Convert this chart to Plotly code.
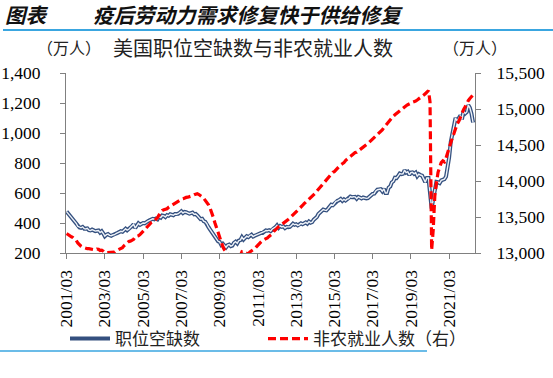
import plotly.graph_objects as go
import pandas as pd

# ---------------- data (万人), monthly from 2001/03 to 2022/06 ----------------
vacancies = [
    476, 462, 455, 440, 428, 410, 398, 378, 370, 368,
    374, 362, 360, 364, 352, 350, 356, 349, 346, 348, 350, 336,
    345, 330, 312, 322, 326, 318, 315, 320, 322, 330, 334, 340,
    345, 342, 350, 362, 352, 358, 370, 378, 392, 366, 380, 398,
    388, 396, 400, 398, 408, 412, 418, 424, 428, 425, 430, 424,
    442, 436, 450, 448, 440, 452, 448, 458, 454, 452, 460, 458,
    462, 470, 478, 466, 474, 472, 468, 462, 466, 470, 458, 460,
    450, 438, 426, 428, 412, 408, 395, 372, 356, 340, 322, 310,
    296, 278, 274, 254, 262, 250, 238, 252, 256, 246, 250, 268,
    276, 264, 282, 286, 306, 290, 298, 312, 306, 318, 322, 310,
    316, 320, 324, 328, 334, 334, 342, 350, 348, 352, 346, 360,
    364, 372, 384, 368, 380, 374, 378, 366, 374, 372, 374, 384,
    396, 388, 392, 384, 388, 398, 392, 398, 404, 396, 410, 402,
    406, 422, 430, 440, 460, 470, 476, 490, 486, 484, 496, 510,
    522, 518, 530, 545, 548, 552, 560, 548, 558, 550, 560, 562,
    576, 572, 576, 574, 562, 574, 570, 564, 570, 566, 564, 566,
    578, 588, 594, 596, 614, 622, 624, 626, 612, 628, 600, 600,
    636, 644, 670, 678, 702, 700, 714, 730, 726, 728, 752, 736,
    742, 720, 736, 738, 728, 736, 712, 726, 720, 716, 694, 672,
    700, 700, 600, 496, 560, 634, 674, 672, 666, 684, 686, 692,
    710, 774, 836, 940, 990, 1050, 1100, 1080, 1100, 1116, 1090, 1146,
    1130, 1140, 1186, 1168, 1130, 1070,
]

payrolls = [
    13270, 13250, 13240, 13225, 13215, 13195, 13175, 13140, 13110, 13095,
    13080, 13070, 13065, 13060, 13060, 13058, 13050, 13048, 13043, 13055, 13053, 13035,
    13040, 13025, 13005, 13003, 13004, 13005, 13006, 13002, 13012, 13030, 13040, 13058,
    13070, 13075, 13100, 13125, 13150, 13160, 13165, 13175, 13190, 13225, 13228, 13240,
    13255, 13280, 13290, 13325, 13345, 13370, 13400, 13420, 13430, 13440, 13470, 13490,
    13530, 13560, 13590, 13600, 13605, 13615, 13635, 13650, 13662, 13668, 13685, 13700,
    13720, 13728, 13745, 13752, 13765, 13772, 13775, 13778, 13785, 13795, 13808, 13818,
    13822, 13812, 13800, 13780, 13760, 13735, 13705, 13670, 13620, 13565, 13495, 13420,
    13350, 13275, 13200, 13125, 13090, 13045, 13010, 12990, 12965, 12950, 12950, 12930,
    12930, 12925, 12940, 12965, 13015, 13000, 12995, 12995, 12990, 13015, 13030, 13040,
    13060, 13085, 13110, 13140, 13155, 13175, 13185, 13195, 13210, 13230, 13245, 13265,
    13300, 13325, 13350, 13365, 13380, 13395, 13410, 13430, 13450, 13465, 13485, 13505,
    13530, 13555, 13575, 13595, 13620, 13640, 13660, 13685, 13705, 13725, 13750, 13765,
    13785, 13805, 13830, 13860, 13885, 13915, 13940, 13962, 13990, 14015, 14045, 14075,
    14095, 14120, 14130, 14155, 14185, 14200, 14225, 14240, 14255, 14285, 14305, 14330,
    14340, 14360, 14380, 14395, 14400, 14420, 14440, 14455, 14475, 14490, 14505, 14520,
    14540, 14560, 14580, 14600, 14620, 14640, 14660, 14685, 14710, 14740, 14770, 14800,
    14830, 14860, 14880, 14900, 14920, 14940, 14960, 14980, 14995, 15010, 15030, 15045,
    15060, 15065, 15080, 15095, 15100, 15110, 15125, 15140, 15155, 15170, 15195, 15210,
    15235, 15255, 15100, 13040, 13320, 13795, 13970, 14120, 14190, 14255, 14280, 14265,
    14320, 14400, 14480, 14550, 14600, 14660, 14740, 14790, 14830, 14890, 14940, 14990,
    15030, 15080, 15115, 15145, 15170, 15195,
]

tick_dates = ["2001-03-01", "2003-03-01", "2005-03-01", "2007-03-01", "2009-03-01",
              "2011-03-01", "2013-03-01", "2015-03-01", "2017-03-01", "2019-03-01",
              "2021-03-01"]
tick_labels = ["2001/03", "2003/03", "2005/03", "2007/03", "2009/03", "2011/03",
               "2013/03", "2015/03", "2017/03", "2019/03", "2021/03"]

series_names = ["职位空缺数", "非农就业人数（右）"]
fig_label = "图表"
fig_title = "疫后劳动力需求修复快于供给修复"
chart_title = "美国职位空缺数与非农就业人数"
unit_label = "（万人）"

months = pd.date_range(start="2001-03-01", periods=len(vacancies), freq="MS")

# ---------------- layout geometry (pixels) ----------------
W, H = 553, 378
L, R, T, B = 66, 475, 73, 253


def pxx(x):
    return (x - L) / (R - L)


def pxy(y):
    return (B - y) / (B - T)


CJK = "Noto Sans CJK SC"
SERIF = "Liberation Serif"

fig = go.Figure()
fig.add_trace(go.Scatter(
    x=months, y=vacancies, mode="lines", name=series_names[0],
    line=dict(color="#34507F", width=4), legendgroup="v", legend="legend",
))
fig.add_trace(go.Scatter(
    x=months, y=vacancies, mode="lines", name=series_names[0],
    line=dict(color="#EEF2F8", width=1.4), legendgroup="v", showlegend=False,
))
fig.add_trace(go.Scatter(
    x=months, y=payrolls, mode="lines", name=series_names[1], yaxis="y2",
    line=dict(color="#FF0000", width=3.2, dash="8px,4px"), legend="legend2",
))

axis_common = dict(
    showline=True, linecolor="#808080", linewidth=1,
    ticks="outside", ticklen=5, tickcolor="#808080", tickwidth=1,
    showgrid=False, zeroline=False, automargin=False,
    tickfont=dict(family=SERIF, size=17.5, color="#000000"),
)

legend_common = dict(
    orientation="h", xanchor="left", yanchor="middle", itemwidth=40,
    font=dict(family=CJK, size=17, color="#222222"), bgcolor="rgba(0,0,0,0)",
)

fig.update_layout(
    width=W, height=H,
    margin=dict(l=L, r=W - R, t=T, b=H - B, pad=0, autoexpand=False),
    paper_bgcolor="white", plot_bgcolor="white",
    xaxis=dict(
        type="date", range=["2001-02-18", "2022-07-08"],
        tickmode="array", tickvals=tick_dates, ticktext=tick_labels,
        tickangle=-90, ticklabelstandoff=4, **axis_common,
    ),
    yaxis=dict(range=[200, 1400], dtick=200, tickformat=",",
               ticklabelstandoff=16, **axis_common),
    yaxis2=dict(range=[13000, 15500], dtick=500, tickformat=",",
                overlaying="y", side="right", ticklabelstandoff=12, **axis_common),
    showlegend=True,
    legend=dict(x=pxx(65), y=pxy(339), **legend_common),
    legend2=dict(x=pxx(263), y=pxy(339), **legend_common),
    shapes=[
        dict(type="line", xref="paper", yref="paper", x0=pxx(3), x1=pxx(553),
             y0=pxy(30), y1=pxy(30), line=dict(color="#3AA6E0", width=2)),
        dict(type="line", xref="paper", yref="paper", x0=pxx(0), x1=pxx(427),
             y0=pxy(351), y1=pxy(351), line=dict(color="#3AA6E0", width=1.5)),
    ],
    annotations=[
        dict(text=fig_label, xref="paper", yref="paper", x=pxx(3), y=pxy(14),
             xanchor="left", yanchor="middle", showarrow=False,
             font=dict(family=CJK, size=20.5, color="#111111", weight="bold", style="italic")),
        dict(text=fig_title, xref="paper", yref="paper", x=pxx(91), y=pxy(14),
             xanchor="left", yanchor="middle", showarrow=False,
             font=dict(family=CJK, size=20.5, color="#111111", weight="bold", style="italic")),
        dict(text=unit_label, xref="paper", yref="paper", x=pxx(35), y=pxy(47),
             xanchor="left", yanchor="middle", showarrow=False,
             font=dict(family=CJK, size=16, color="#222222")),
        dict(text=chart_title, xref="paper", yref="paper", x=pxx(111), y=pxy(47),
             xanchor="left", yanchor="middle", showarrow=False,
             font=dict(family=CJK, size=20, color="#222222")),
        dict(text=unit_label, xref="paper", yref="paper", x=pxx(441), y=pxy(47),
             xanchor="left", yanchor="middle", showarrow=False,
             font=dict(family=CJK, size=16, color="#222222")),
    ],
)

fig.write_html(
    "out.html",
    config={"displayModeBar": False},
    post_script="document.body.style.margin='0';document.body.style.padding='0';",
)
